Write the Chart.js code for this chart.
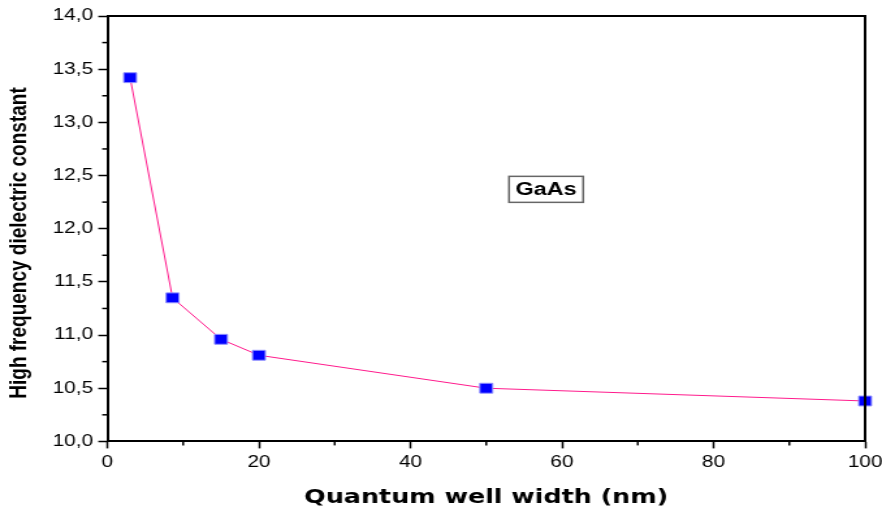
<!DOCTYPE html>
<html>
<head>
<meta charset="utf-8">
<script src="https://cdn.jsdelivr.net/npm/chart.js@4.4.1/dist/chart.umd.min.js"></script>
<style>
  html, body { margin: 0; padding: 0; background: #fff; overflow: hidden; }
  /* the reference is stretched sideways, so the canvas is drawn narrow and widened */
  #chart { display: block; width: 882px; height: 511px; }
</style>
</head>
<body>
<canvas id="chart" width="678" height="511" style="width:882px;height:511px"></canvas>
<script>
// data
const wellWidth = [3, 8.6, 15, 20, 50, 100];
const dielectric = [13.42, 11.35, 10.96, 10.81, 10.50, 10.38];
const xMinorTicks = [10, 30, 50, 70, 90];
const yMinorTicks = [10.25, 10.75, 11.25, 11.75, 12.25, 12.75, 13.25, 13.75];
const labelText = 'GaAs';
const labelAt = { x: 57.9, y: 12.37 };
const yTitle = 'High frequency dielectric constant';

const tickFont = { family: 'Liberation Sans, Arial', size: 16 };

// frame on top/right, minor ticks, y title and the GaAs box
const extras = {
    id: 'extras',
    afterDraw(chart) {
        const ctx = chart.ctx;
        const a = chart.chartArea;
        const xs = chart.scales.x;
        const ys = chart.scales.y;
        ctx.save();
        ctx.strokeStyle = '#000';
        ctx.lineWidth = 2;
        ctx.beginPath();
        ctx.moveTo(a.left, a.top);
        ctx.lineTo(a.right, a.top);
        ctx.lineTo(a.right, a.bottom);
        ctx.stroke();

        ctx.lineWidth = 1.5;
        xMinorTicks.forEach(v => {
            const px = xs.getPixelForValue(v);
            ctx.beginPath();
            ctx.moveTo(px, a.bottom);
            ctx.lineTo(px, a.bottom + 4);
            ctx.stroke();
        });
        yMinorTicks.forEach(v => {
            const py = ys.getPixelForValue(v);
            ctx.beginPath();
            ctx.moveTo(a.left, py);
            ctx.lineTo(a.left - 4, py);
            ctx.stroke();
        });

        // label box
        const cx = xs.getPixelForValue(labelAt.x);
        const cy = ys.getPixelForValue(labelAt.y);
        ctx.font = 'bold 18px Liberation Sans, Arial';
        ctx.textAlign = 'center';
        ctx.textBaseline = 'middle';
        const w = ctx.measureText(labelText).width + 10;
        ctx.fillStyle = '#fff';
        ctx.fillRect(cx - w / 2, cy - 13, w, 26);
        ctx.strokeStyle = '#666';
        ctx.lineWidth = 1.5;
        ctx.strokeRect(cx - w / 2, cy - 13, w, 26);
        ctx.fillStyle = '#000';
        ctx.fillText(labelText, cx, cy + 1);

        // y title, sits a little below the middle of the axis
        ctx.translate(15, 243);
        ctx.rotate(-Math.PI / 2);
        ctx.font = 'bold 19px Liberation Sans, Arial';
        ctx.fillText(yTitle, 0, 0);
        ctx.restore();
    }
};

new Chart(document.getElementById('chart'), {
    type: 'scatter',
    data: {
        datasets: [{
            data: wellWidth.map((x, i) => ({ x: x, y: dielectric[i] })),
            showLine: true,
            borderColor: '#ff1a8c',
            borderWidth: 1,
            pointStyle: 'rect',
            pointRadius: 7,
            pointBackgroundColor: '#0000ff',
            pointBorderColor: '#8f8fff',
            pointBorderWidth: 1,
            clip: false
        }]
    },
    options: {
        responsive: false,
        animation: false,
        devicePixelRatio: 1,
        layout: { padding: { top: 16, right: 0, left: 36.4, bottom: 1 } },
        plugins: { legend: { display: false }, tooltip: { enabled: false } },
        scales: {
            x: {
                type: 'linear',
                min: 0,
                max: 100,
                border: { color: '#000', width: 2 },
                grid: { drawOnChartArea: false, color: '#000', tickLength: 7, tickWidth: 1.5 },
                ticks: { stepSize: 20, color: '#000', font: tickFont, padding: 5, maxRotation: 0 },
                title: {
                    display: true,
                    text: 'Quantum well width (nm)',
                    color: '#000',
                    font: { family: 'DejaVu Sans', size: 19.5, weight: 'bold' },
                    padding: { top: 9, bottom: 0 }
                },
                afterFit: scale => { scale.paddingRight = 13; }
            },
            y: {
                min: 10,
                max: 14,
                border: { color: '#000', width: 2 },
                grid: { drawOnChartArea: false, color: '#000', tickLength: 7, tickWidth: 1.5 },
                ticks: {
                    stepSize: 0.5,
                    color: '#000',
                    font: tickFont,
                    padding: 4,
                    callback: v => v.toFixed(1).replace('.', ',')
                }
            }
        }
    },
    plugins: [extras]
});
</script>
</body>
</html>
